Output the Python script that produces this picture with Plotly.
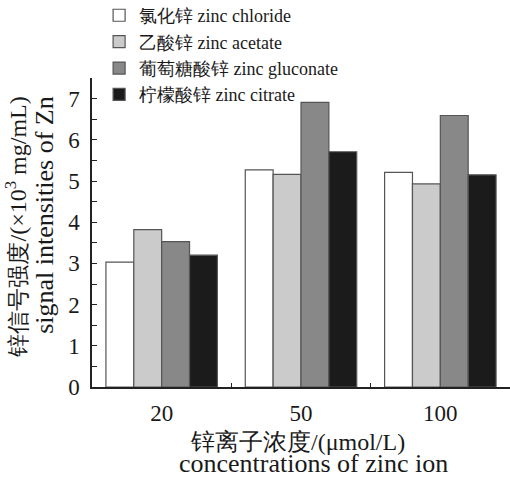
import plotly.graph_objects as go

categories = ["20", "50", "100"]
series_names = ["氯化锌 zinc chloride", "乙酸锌 zinc acetate", "葡萄糖酸锌 zinc gluconate", "柠檬酸锌 zinc citrate"]
zinc_chloride = [3.03, 5.27, 5.21]
zinc_acetate = [3.82, 5.16, 4.93]
zinc_gluconate = [3.53, 6.91, 6.59]
zinc_citrate = [3.20, 5.71, 5.15]
y_tick_vals = [0, 1, 2, 3, 4, 5, 6, 7]

series_values = [zinc_chloride, zinc_acetate, zinc_gluconate, zinc_citrate]
fills = ["#ffffff", "#cbcbcb", "#888888", "#1b1b1b"]

FONT = "Liberation Serif"

fig = go.Figure()
for name, vals, col in zip(series_names, series_values, fills):
    fig.add_trace(go.Bar(
        x=categories, y=vals, name=name,
        marker=dict(color=col, line=dict(color="#555555", width=1.2)),
    ))

x_title_cn = "锌离子浓度/(μmol/L)"
x_title_en = "concentrations of zinc ion"
y_title = ("<span style='font-size:23px'>锌信号强度</span>"
           "<span style='font-size:24px'>/(×10<sup>3</sup> mg/mL)</span><br>"
           "<span style='font-size:26px'>signal intensities of Zn</span>")

fig.update_layout(
    width=510, height=480,
    margin=dict(l=92, r=0, t=78, b=93, autoexpand=False),
    paper_bgcolor="white", plot_bgcolor="white",
    barmode="group", bargap=0.2, bargroupgap=0,
    font=dict(family=FONT, color="#1a1a1a"),
    showlegend=True,
    legend=dict(
        x=0.017, y=1.262, xanchor="left", yanchor="top",
        font=dict(size=18, family=FONT, color="#1a1a1a"),
        bgcolor="rgba(0,0,0,0)", tracegroupgap=0,
        traceorder="normal",
    ),
    xaxis=dict(
        type="category", range=[-0.5, 2.5],
        showline=True, linecolor="#222222", linewidth=1.5,
        ticks="inside", tickson="boundaries", ticklen=4, tickcolor="#222222",
        tickfont=dict(size=23, family=FONT), ticklabelstandoff=5,
        showgrid=False, zeroline=False,
    ),
    yaxis=dict(
        range=[0, 7.5], tickvals=y_tick_vals,
        showline=True, linecolor="#222222", linewidth=1.5,
        ticks="inside", ticklen=5, tickcolor="#222222",
        minor=dict(dtick=0.5, ticks="inside", ticklen=5, tickcolor="#222222", showgrid=False),
        tickfont=dict(size=23, family=FONT), ticklabelstandoff=6,
        showgrid=False, zeroline=False,
    ),
    annotations=[
        dict(
            text=y_title, textangle=-90, align="right",
            xref="paper", yref="paper", x=0, y=1,
            xanchor="center", yanchor="top", xshift=-63, yshift=-17,
            showarrow=False, font=dict(size=21, family=FONT, color="#1a1a1a"),
        ),
        dict(
            text=x_title_cn, xref="paper", yref="paper", x=0.5, y=0,
            xanchor="center", yanchor="middle", xshift=-4, yshift=-55,
            showarrow=False, font=dict(size=24, family=FONT, color="#1a1a1a"),
        ),
        dict(
            text=x_title_en, xref="paper", yref="paper", x=0.5, y=0,
            xanchor="center", yanchor="bottom", xshift=12, yshift=-93,
            showarrow=False, font=dict(size=26, family=FONT, color="#1a1a1a"),
        ),
    ],
)

fig.write_html(
    "out.html",
    config={"displayModeBar": False},
    post_script="document.body.style.margin='0';document.body.style.overflow='hidden';",
)
